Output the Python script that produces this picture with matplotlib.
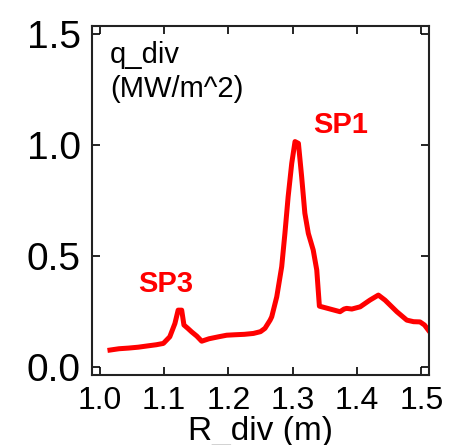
"""Divertor heat flux profile along R_div with the strike points marked."""

import matplotlib
matplotlib.use("Agg")
import matplotlib.pyplot as plt

plt.rcParams['font.family'] = ['Liberation Sans', 'DejaVu Sans']

# heat flux profile, q_div (MW/m^2) vs R_div (m)
r_div = [1.016, 1.030, 1.045, 1.060, 1.075, 1.088, 1.099, 1.109, 1.117,
         1.122, 1.1275, 1.131, 1.137, 1.143, 1.151, 1.1586, 1.170, 1.185,
         1.1975, 1.210, 1.225, 1.239, 1.250, 1.257, 1.265, 1.2675, 1.2753,
         1.283, 1.288, 1.293, 1.2986, 1.3037, 1.309, 1.314, 1.319, 1.3244,
         1.332, 1.3375, 1.3416, 1.3737, 1.380, 1.384, 1.392, 1.405, 1.420,
         1.4333, 1.4437, 1.462, 1.4775, 1.488, 1.498, 1.505, 1.511]
q_div = [0.077, 0.083, 0.086, 0.090, 0.096, 0.101, 0.107, 0.137, 0.197,
         0.257, 0.257, 0.190, 0.175, 0.159, 0.140, 0.117, 0.128, 0.137,
         0.144, 0.146, 0.148, 0.152, 0.160, 0.175, 0.212, 0.227, 0.317,
         0.453, 0.603, 0.768, 0.919, 1.017, 1.009, 0.859, 0.694, 0.603,
         0.528, 0.438, 0.275, 0.250, 0.262, 0.265, 0.262, 0.272, 0.302,
         0.325, 0.302, 0.250, 0.212, 0.205, 0.204, 0.190, 0.167]

# strike point labels
sp_names = ["SP1", "SP3"]
sp_r = [1.374, 1.102]
sp_q = [1.056, 0.338]

x_ticks = [1.0, 1.1, 1.2, 1.3, 1.4, 1.5]
y_ticks = [0.0, 0.5, 1.0, 1.5]

fig = plt.figure(figsize=(4.53, 4.45), dpi=100)
ax = fig.add_axes([0.203, 0.157, 0.744, 0.785])

ax.plot(r_div, q_div, color='#ff0000', lw=3.6, solid_joinstyle='round')

for name, r, q in zip(sp_names, sp_r, sp_q):
    ax.text(r, q, name, color='#ff0000', fontsize=21, fontweight='bold',
            ha='center', va='baseline')

ax.text(0.053, 0.894, "q_div", transform=ax.transAxes, fontsize=21,
        va='baseline', ha='left')
ax.text(0.053, 0.797, "(MW/m^2)", transform=ax.transAxes, fontsize=21,
        va='baseline', ha='left')

ax.set_xlim(0.988, 1.512)
ax.set_ylim(-0.036, 1.539)
ax.set_xticks(x_ticks)
ax.set_yticks(y_ticks)
ax.set_xticklabels(["%.1f" % t for t in x_ticks])
ax.set_yticklabels(["%.1f" % t for t in y_ticks])

ax.tick_params(direction='in', top=True, right=True, length=6, width=1.2,
               colors='black')
ax.tick_params(axis='y', labelsize=28, pad=8)
ax.tick_params(axis='x', labelsize=23, pad=8)
for spine in ax.spines.values():
    spine.set_linewidth(1.5)
    spine.set_color('#222222')

ax.set_xlabel("R_div (m)", fontsize=24, labelpad=0)

fig.savefig("out.png", dpi=100)
